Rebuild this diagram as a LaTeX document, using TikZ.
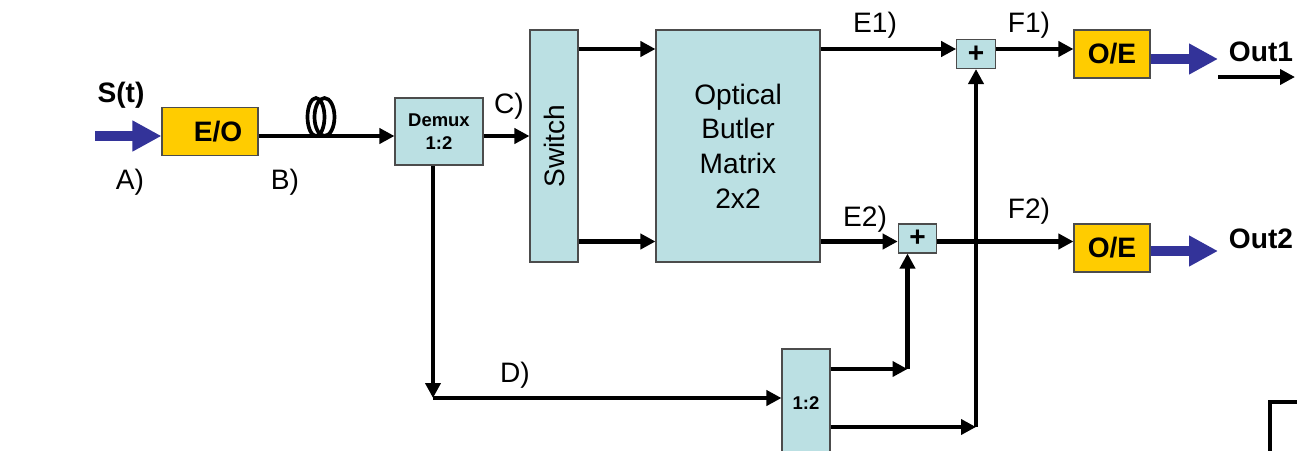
\documentclass[tikz,border=0pt]{standalone}
\usepackage{fontspec}
\setmainfont{Liberation Sans}
\usepackage{tikz}
\usetikzlibrary{arrows.meta, positioning, calc}
\definecolor{boxblue}{HTML}{BBE0E3}
\definecolor{boxyellow}{HTML}{FFCC00}
\definecolor{arrowblue}{HTML}{333399}

\begin{document}
\begin{tikzpicture}[
    >={Triangle[length=0.3cm, width=0.3cm]},
    block/.style={rectangle, draw=black!70, line width=0.6pt, fill=boxblue,
                  inner sep=0pt, align=center},
    conv/.style={rectangle, draw=black!70, line width=0.6pt, fill=boxyellow,
                 inner sep=0pt, minimum width=1.52cm, minimum height=0.96cm,
                 font=\fontsize{16}{19}\selectfont\bfseries},
    plusbox/.style={block, minimum width=0.77cm, minimum height=0.58cm,
                    font=\fontsize{16}{16}\selectfont\bfseries},
    sig/.style={->, line width=2.3pt},
    fat/.style={-{Triangle[length=0.58cm, width=0.58cm]}, line width=0.2cm, arrowblue},
    tag/.style={font=\fontsize{16}{19}\selectfont, inner sep=0pt}
]
\useasboundingbox (0,0) rectangle (25.94,-9);
\node[conv, minimum width=1.92cm] (eo) at (4.2,-2.63) {\hspace{0.32cm}E/O};
\node[block, minimum width=1.76cm, minimum height=1.34cm,
      font=\fontsize{10.5}{13}\selectfont\bfseries] (demux) at (8.78,-2.63) {Demux\\1:2};
\node[block, minimum width=0.96cm, minimum height=4.64cm] (switch) at (11.08,-2.92) {};
\node[tag, rotate=90] (switchlbl) at (switch) {Switch};
\node[block, minimum width=3.28cm, minimum height=4.64cm,
      font=\fontsize{16}{19.8}\selectfont] (butler) at (14.76,-2.92) {Optical\\Butler\\Matrix\\2x2};
\node[plusbox] (plus1) at (19.52,-1.08) {+};
\node[plusbox] (plus2) at (18.35,-4.77) {+};
\node[conv] (oe1) at (22.24,-1.08) {O/E};
\node[conv] (oe2) at (22.24,-4.96) {O/E};
\node[block, minimum width=0.96cm, minimum height=2.4cm,
      font=\fontsize{10.5}{13}\selectfont\bfseries] (split) at (16.12,-8.18) {\raisebox{0.22cm}{1:2}};

\node[tag, font=\fontsize{16}{19}\selectfont\bfseries] (st) at (2.42,-1.9) {S(t)};
\node[tag] (la) at (2.6,-3.64) {A)};
\node[tag] (lb) at (5.7,-3.64) {B)};
\node[tag] (lc) at (10.18,-2.12) {C)};
\node[tag] (ld) at (10.3,-7.5) {D)};
\node[tag] (le1) at (17.5,-0.5) {E1)};
\node[tag] (lf1) at (20.58,-0.5) {F1)};
\node[tag] (le2) at (17.3,-4.38) {E2)};
\node[tag] (lf2) at (20.58,-4.22) {F2)};
\node[tag, font=\fontsize{16}{19}\selectfont\bfseries] (lout1) at (25.22,-1.04) {Out1};
\node[tag, font=\fontsize{16}{19}\selectfont\bfseries] (lout2) at (25.22,-4.78) {Out2};

\coordinate (r0) at (0,-2.72);
\coordinate (r1) at (0,-0.98);
\coordinate (r2) at (0,-4.83);
\coordinate (dlev) at (0,-7.96);
\coordinate (s1) at (0,-7.38);
\coordinate (s2) at (0,-8.54);
\coordinate (src) at (1.9,-2.72);
\coordinate (out1) at (24.36,-1.18);
\coordinate (out2) at (24.36,-5.02);
\coordinate (out1end) at (25.9,-1.54);
\coordinate (dtap) at ($(demux.south)+(-0.12,0)$);
\coordinate (p2in) at ($(plus2.south)+(-0.2,0)$);

\draw[fat] (src) -- (eo.west |- src);
\draw[sig] (eo.east |- r0) -- (demux.west |- r0);
\draw[line width=2.1pt] (6.32,-2.34) ellipse [x radius=0.17, y radius=0.38];
\draw[line width=2.1pt] (6.49,-2.34) ellipse [x radius=0.2, y radius=0.38];
\draw[sig] (demux.east |- r0) -- (switch.west |- r0);
\draw[sig] (switch.east |- r1) -- (butler.west |- r1);
\draw[sig] (switch.east |- r2) -- (butler.west |- r2);
\draw[sig] (butler.east |- r1) -- (plus1.west |- r1);
\draw[sig] (plus1.east |- r1) -- (oe1.west |- r1);
\draw[sig] (butler.east |- r2) -- (plus2.west |- r2);
\draw[sig] (plus2.east |- r2) -- (oe2.west |- r2);
\draw[fat] (oe1.east |- out1) -- (out1);
\draw[fat] (oe2.east |- out2) -- (out2);
\draw[sig] (out1 |- out1end) -- (out1end);
\draw[sig] (dtap) -- (dtap |- dlev);
\draw[sig] (dtap |- dlev) -- (split.west |- dlev);
\draw[sig] (split.east |- s1) -- (p2in |- s1);
\draw[sig] (p2in |- s1) -- (p2in);
\draw[sig] (split.east |- s2) -- (plus1.south |- s2);
\draw[sig] (plus1.south |- s2) -- (plus1.south);
\draw[line width=2pt] (25.4,-9.3) |- (26.2,-8.04);
\end{tikzpicture}
\end{document}
